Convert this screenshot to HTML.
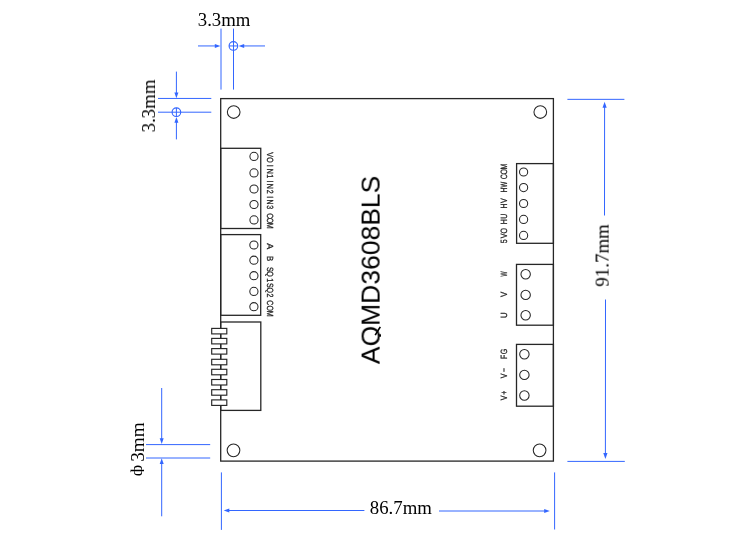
<!DOCTYPE html>
<html><head><meta charset="utf-8"><title>AQMD3608BLS dimensions</title>
<style>html,body{margin:0;padding:0;background:#fff;}svg{display:block;}text{font-family:"Liberation Serif",serif;}.s{font-family:"Liberation Sans",sans-serif;}.l{text-rendering:geometricPrecision;}</style></head><body>
<svg width="750" height="551" viewBox="0 0 750 551">
<rect width="750" height="551" fill="#fff"/>
<defs><filter id="g" filterUnits="userSpaceOnUse" x="0" y="0" width="750" height="551"><feOffset dx="0" dy="0"/></filter></defs>
<rect x="220.7" y="98.6" width="332.70" height="362.50" fill="none" stroke="#262626" stroke-width="1.3"/>
<circle cx="233.7" cy="112.0" r="6.35" fill="none" stroke="#262626" stroke-width="1.05"/>
<circle cx="233.5" cy="450.3" r="6.35" fill="none" stroke="#262626" stroke-width="1.05"/>
<circle cx="540.3" cy="112.0" r="6.35" fill="none" stroke="#262626" stroke-width="1.05"/>
<circle cx="539.6" cy="450.3" r="6.35" fill="none" stroke="#262626" stroke-width="1.05"/>
<rect x="220.7" y="148.3" width="40.05" height="80.20" fill="none" stroke="#262626" stroke-width="1.3"/>
<circle cx="254.0" cy="156.4" r="4.1" fill="none" stroke="#262626" stroke-width="1.05"/>
<circle cx="254.0" cy="172.9" r="4.1" fill="none" stroke="#262626" stroke-width="1.05"/>
<circle cx="254.0" cy="189.0" r="4.1" fill="none" stroke="#262626" stroke-width="1.05"/>
<circle cx="254.0" cy="204.5" r="4.1" fill="none" stroke="#262626" stroke-width="1.05"/>
<circle cx="254.0" cy="219.95" r="4.1" fill="none" stroke="#262626" stroke-width="1.05"/>
<rect x="220.7" y="234.6" width="40.00" height="80.70" fill="none" stroke="#262626" stroke-width="1.3"/>
<circle cx="253.9" cy="245.0" r="4.1" fill="none" stroke="#262626" stroke-width="1.05"/>
<circle cx="253.9" cy="260.2" r="4.1" fill="none" stroke="#262626" stroke-width="1.05"/>
<circle cx="253.9" cy="275.7" r="4.1" fill="none" stroke="#262626" stroke-width="1.05"/>
<circle cx="253.9" cy="291.4" r="4.1" fill="none" stroke="#262626" stroke-width="1.05"/>
<circle cx="253.9" cy="306.7" r="4.1" fill="none" stroke="#262626" stroke-width="1.05"/>
<rect x="220.7" y="322.0" width="40.10" height="88.40" fill="none" stroke="#262626" stroke-width="1.3"/>
<rect x="211.7" y="328.4" width="15.10" height="5.50" fill="#fff" stroke="#262626" stroke-width="1.15"/>
<rect x="211.7" y="338.4" width="15.10" height="5.50" fill="#fff" stroke="#262626" stroke-width="1.15"/>
<rect x="211.7" y="348.6" width="15.10" height="5.50" fill="#fff" stroke="#262626" stroke-width="1.15"/>
<rect x="211.7" y="359.3" width="15.10" height="5.50" fill="#fff" stroke="#262626" stroke-width="1.15"/>
<rect x="211.7" y="369.3" width="15.10" height="5.50" fill="#fff" stroke="#262626" stroke-width="1.15"/>
<rect x="211.7" y="379.5" width="15.10" height="5.50" fill="#fff" stroke="#262626" stroke-width="1.15"/>
<rect x="211.7" y="389.7" width="15.10" height="5.50" fill="#fff" stroke="#262626" stroke-width="1.15"/>
<rect x="211.7" y="399.9" width="15.10" height="5.50" fill="#fff" stroke="#262626" stroke-width="1.15"/>
<rect x="516.6" y="163.6" width="36.80" height="79.70" fill="none" stroke="#262626" stroke-width="1.3"/>
<circle cx="523.6" cy="172.0" r="4.1" fill="none" stroke="#262626" stroke-width="1.05"/>
<circle cx="523.6" cy="187.6" r="4.1" fill="none" stroke="#262626" stroke-width="1.05"/>
<circle cx="523.6" cy="203.5" r="4.1" fill="none" stroke="#262626" stroke-width="1.05"/>
<circle cx="523.6" cy="219.4" r="4.1" fill="none" stroke="#262626" stroke-width="1.05"/>
<circle cx="523.6" cy="235.4" r="4.1" fill="none" stroke="#262626" stroke-width="1.05"/>
<rect x="516.5" y="264.4" width="36.90" height="60.80" fill="none" stroke="#262626" stroke-width="1.3"/>
<circle cx="525.65" cy="274.3" r="4.7" fill="none" stroke="#262626" stroke-width="1.05"/>
<circle cx="525.65" cy="294.9" r="4.7" fill="none" stroke="#262626" stroke-width="1.05"/>
<circle cx="525.65" cy="315.3" r="4.7" fill="none" stroke="#262626" stroke-width="1.05"/>
<rect x="516.5" y="344.4" width="36.90" height="61.80" fill="none" stroke="#262626" stroke-width="1.3"/>
<circle cx="524.4" cy="354.3" r="4.7" fill="none" stroke="#262626" stroke-width="1.05"/>
<circle cx="524.4" cy="374.9" r="4.7" fill="none" stroke="#262626" stroke-width="1.05"/>
<circle cx="524.4" cy="395.5" r="4.7" fill="none" stroke="#262626" stroke-width="1.05"/>
<defs><clipPath id="qc"><rect x="355" y="170" width="25.05" height="200"/></clipPath></defs>
<line x1="375.2" y1="335.1" x2="380.3" y2="326.9" stroke="#000" stroke-width="1.7"/>
<line x1="221.0" y1="28.6" x2="221.0" y2="89.6" stroke="#3366ff" stroke-width="1.0"/>
<line x1="233.5" y1="28.6" x2="233.5" y2="89.6" stroke="#3366ff" stroke-width="1.0"/>
<circle cx="233.4" cy="45.95" r="4.3" fill="none" stroke="#3366ff" stroke-width="1.15"/>
<line x1="229.1" y1="45.95" x2="237.7" y2="45.95" stroke="#3366ff" stroke-width="1.0"/>
<line x1="198" y1="45.95" x2="215.8" y2="45.95" stroke="#3366ff" stroke-width="1.0"/>
<polygon points="220.4,45.95 214.80,47.95 214.80,43.95" fill="#3366ff"/>
<line x1="265" y1="45.95" x2="243.2" y2="45.95" stroke="#3366ff" stroke-width="1.0"/>
<polygon points="238.6,45.95 244.20,43.95 244.20,47.95" fill="#3366ff"/>
<line x1="158" y1="98.45" x2="211.3" y2="98.45" stroke="#3366ff" stroke-width="1.0"/>
<line x1="158" y1="112.2" x2="211.3" y2="112.2" stroke="#3366ff" stroke-width="1.0"/>
<circle cx="176.4" cy="112.2" r="4.3" fill="none" stroke="#3366ff" stroke-width="1.15"/>
<line x1="176.4" y1="107.9" x2="176.4" y2="116.5" stroke="#3366ff" stroke-width="1.0"/>
<line x1="176.4" y1="71.6" x2="176.4" y2="93.6" stroke="#3366ff" stroke-width="1.0"/>
<polygon points="176.4,98.2 174.40,92.60 178.40,92.60" fill="#3366ff"/>
<line x1="176.4" y1="139.4" x2="176.4" y2="121.7" stroke="#3366ff" stroke-width="1.0"/>
<polygon points="176.4,117.1 178.40,122.70 174.40,122.70" fill="#3366ff"/>
<line x1="146" y1="444.6" x2="210.2" y2="444.6" stroke="#3366ff" stroke-width="1.0"/>
<line x1="146" y1="458.0" x2="210.2" y2="458.0" stroke="#3366ff" stroke-width="1.0"/>
<line x1="161.7" y1="388" x2="161.7" y2="439.3" stroke="#3366ff" stroke-width="1.0"/>
<polygon points="161.7,443.9 159.70,438.30 163.70,438.30" fill="#3366ff"/>
<line x1="161.7" y1="516.3" x2="161.7" y2="462.9" stroke="#3366ff" stroke-width="1.0"/>
<polygon points="161.7,458.3 163.70,463.90 159.70,463.90" fill="#3366ff"/>
<defs><clipPath id="pc"><rect x="130.0" y="460" width="14.1" height="20"/></clipPath></defs>
<line x1="221.4" y1="472.4" x2="221.4" y2="529.9" stroke="#3366ff" stroke-width="1.0"/>
<line x1="554.6" y1="472.4" x2="554.6" y2="529.5" stroke="#3366ff" stroke-width="1.0"/>
<line x1="364.4" y1="510.5" x2="228.3" y2="510.5" stroke="#3366ff" stroke-width="1.0"/>
<polygon points="223.7,510.5 229.30,508.50 229.30,512.50" fill="#3366ff"/>
<line x1="439" y1="511.0" x2="545.2" y2="511.0" stroke="#3366ff" stroke-width="1.0"/>
<polygon points="549.8,511.0 544.20,513.00 544.20,509.00" fill="#3366ff"/>
<line x1="567.4" y1="99.35" x2="624.4" y2="99.35" stroke="#3366ff" stroke-width="1.0"/>
<line x1="567.4" y1="461.4" x2="624.8" y2="461.4" stroke="#3366ff" stroke-width="1.0"/>
<line x1="604.5" y1="215.5" x2="604.6" y2="106.7" stroke="#3366ff" stroke-width="1.0"/>
<polygon points="604.6,101.7 606.69,107.70 602.49,107.70" fill="#3366ff"/>
<line x1="605.5" y1="299.5" x2="605.4" y2="454.0" stroke="#3366ff" stroke-width="1.0"/>
<polygon points="605.4,459.0 603.30,453.00 607.50,453.00" fill="#3366ff"/>
<g filter="url(#g)">
<text class="s l" transform="translate(266.55,0) rotate(90) scale(0.79,1)" x="195.82 202.41" y="0" font-size="8.9" text-anchor="middle" fill="#262626" stroke="#262626" stroke-width="0.3">VO</text>
<text class="s l" transform="translate(266.55,0) rotate(90) scale(0.79,1)" x="209.87 216.71 223.04 229.75 235.95 242.53 249.75 255.70 262.41" y="0" font-size="8.9" text-anchor="middle" fill="#262626" stroke="#262626" stroke-width="0.3">IN1IN2IN3</text>
<text class="s l" transform="translate(266.55,0) rotate(90) scale(0.79,1)" x="273.16 279.11 285.70" y="0" font-size="8.9" text-anchor="middle" fill="#262626" stroke="#262626" stroke-width="0.3">COM</text>
<text class="s l" transform="translate(266.55,0) rotate(90) scale(1.0,1)" x="246.20" y="0" font-size="8.9" text-anchor="middle" fill="#262626" stroke="#262626" stroke-width="0.3">A</text>
<text class="s l" transform="translate(266.55,0) rotate(90) scale(0.86,1)" x="300.70" y="0" font-size="8.9" text-anchor="middle" fill="#262626" stroke="#262626" stroke-width="0.3">B</text>
<text class="s l" transform="translate(266.55,0) rotate(90) scale(0.79,1)" x="340.89 346.96 354.56 361.14 367.34 373.92" y="0" font-size="8.9" text-anchor="middle" fill="#262626" stroke="#262626" stroke-width="0.3">SQ1SQ2</text>
<text class="s l" transform="translate(266.55,0) rotate(90) scale(0.79,1)" x="383.42 390.06 396.96" y="0" font-size="8.9" text-anchor="middle" fill="#262626" stroke="#262626" stroke-width="0.3">COM</text>
<text class="s l" transform="translate(507.4,0) rotate(-90) scale(0.77,1)" x="-313.51 -306.43 -299.61" y="0" font-size="9.1" text-anchor="middle" fill="#262626" stroke="#262626" stroke-width="0.3">5VO</text>
<text class="s l" transform="translate(507.4,0) rotate(-90) scale(0.77,1)" x="-287.79 -280.84" y="0" font-size="9.1" text-anchor="middle" fill="#262626" stroke="#262626" stroke-width="0.3">HU</text>
<text class="s l" transform="translate(507.1,0) rotate(-90) scale(0.77,1)" x="-267.47 -260.65" y="0" font-size="9.1" text-anchor="middle" fill="#262626" stroke="#262626" stroke-width="0.3">HV</text>
<text class="s l" transform="translate(507.1,0) rotate(-90) scale(0.77,1)" x="-246.69" y="0" font-size="9.1" text-anchor="middle" fill="#262626" stroke="#262626" stroke-width="0.3">H</text>
<text class="s l" transform="translate(507.1,0) rotate(-90) scale(0.66,1)" x="-279.62" y="0" font-size="9.1" text-anchor="middle" fill="#262626" stroke="#262626" stroke-width="0.3">W</text>
<text class="s l" transform="translate(507.1,0) rotate(-90) scale(0.77,1)" x="-229.61 -223.12 -216.36" y="0" font-size="9.1" text-anchor="middle" fill="#262626" stroke="#262626" stroke-width="0.3">COM</text>
<text class="s l" transform="translate(507.1,0) rotate(-90) scale(0.6,1)" x="-456.50" y="0" font-size="9.1" text-anchor="middle" fill="#262626" stroke="#262626" stroke-width="0.3">W</text>
<text class="s l" transform="translate(507.1,0) rotate(-90) scale(0.86,1)" x="-342.44" y="0" font-size="9.1" text-anchor="middle" fill="#262626" stroke="#262626" stroke-width="0.3">V</text>
<text class="s l" transform="translate(507.1,0) rotate(-90) scale(0.86,1)" x="-366.40" y="0" font-size="9.1" text-anchor="middle" fill="#262626" stroke="#262626" stroke-width="0.3">U</text>
<text class="s l" transform="translate(507.1,0) rotate(-90) scale(0.77,1)" x="-463.38 -456.62" y="0" font-size="9.1" text-anchor="middle" fill="#262626" stroke="#262626" stroke-width="0.3">FG</text>
<text class="s l" transform="translate(507.1,0) rotate(-90) scale(0.77,1)" x="-488.31 -480.52" y="0" font-size="9.1" text-anchor="middle" fill="#262626" stroke="#262626" stroke-width="0.3">V−</text>
<text class="s l" transform="translate(507.1,0) rotate(-90) scale(0.77,1)" x="-516.75 -509.87" y="0" font-size="9.1" text-anchor="middle" fill="#262626" stroke="#262626" stroke-width="0.3">V+</text>
<g clip-path="url(#qc)"><text class="s" transform="translate(379.6,269.9) rotate(-90)" font-size="26.5" text-anchor="middle" fill="#000">AQMD3608BLS</text></g>
<text x="197.8" y="25.8" textLength="52.6" lengthAdjust="spacingAndGlyphs" font-size="18.4" fill="#000">3.3mm</text>
<text transform="translate(155.0,132.4) rotate(-90)" textLength="52.8" lengthAdjust="spacingAndGlyphs" font-size="18.4" fill="#000">3.3mm</text>
<text transform="translate(143.9,461.8) rotate(-90)" textLength="39.4" lengthAdjust="spacingAndGlyphs" font-size="18.4" fill="#000">3mm</text>
<g clip-path="url(#pc)"><text transform="translate(141.8,476.35) rotate(-90)" font-size="17.6" fill="#000">ф</text></g>
<text x="369.8" y="514" textLength="62.1" lengthAdjust="spacingAndGlyphs" font-size="18.4" fill="#000">86.7mm</text>
<text transform="translate(608.6,286.7) rotate(-90)" textLength="62.6" lengthAdjust="spacingAndGlyphs" font-size="18.4" fill="#000">91.7mm</text>
</g>
</svg></body></html>
